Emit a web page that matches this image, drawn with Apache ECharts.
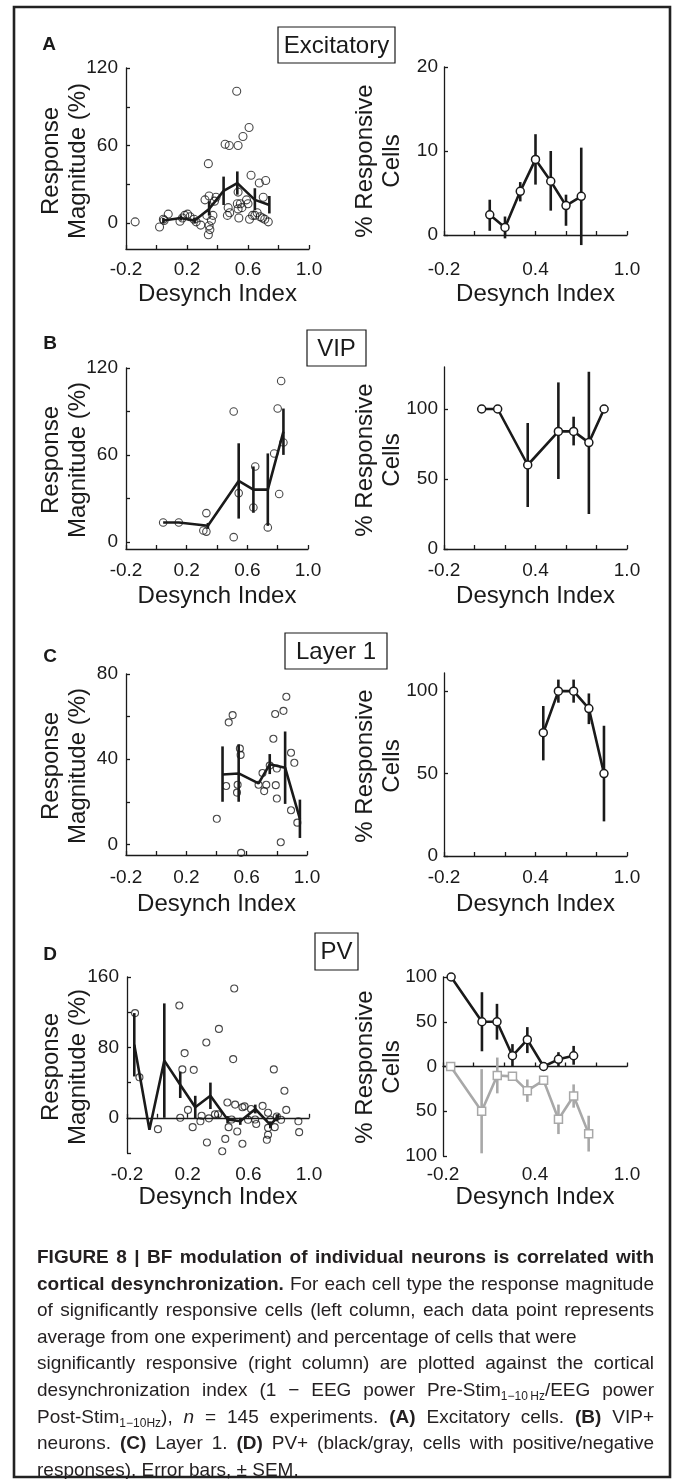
<!DOCTYPE html>
<html>
<head>
<meta charset="utf-8">
<script src="https://cdn.jsdelivr.net/npm/echarts@6/dist/echarts.min.js"></script>
<style>
html, body { margin: 0; padding: 0; background: #fff; }
#chart { position: absolute; left: 0; top: 0; width: 673px; height: 1479px; }
#caption { position: absolute; left: 37px; top: 1244px; width: 617px; font-family: 'Liberation Sans', Arial, sans-serif; font-size: 19px; line-height: 26.6px; color: #231f20; }
#caption div { white-space: nowrap; text-align: justify; text-align-last: justify; }
#caption div.last { text-align-last: left; }
#caption sub { font-size: 12px; line-height: 0; vertical-align: -4px; }
</style>
</head>
<body>
<div id="chart"></div>
<div id="caption">
<div><b>FIGURE 8 | BF modulation of individual neurons is correlated with</b></div>
<div><b>cortical desynchronization.</b> For each cell type the response magnitude</div>
<div>of significantly responsive cells (left column, each data point represents</div>
<div class="last">average from one experiment) and percentage of cells that were</div>
<div>significantly responsive (right column) are plotted against the cortical</div>
<div>desynchronization index (1 &minus; EEG power Pre-Stim<sub>1&minus;10&thinsp;Hz</sub>/EEG power</div>
<div>Post-Stim<sub>1&minus;10Hz</sub>), <i>n</i> = 145 experiments. <b>(A)</b> Excitatory cells. <b>(B)</b> VIP+</div>
<div>neurons. <b>(C)</b> Layer 1. <b>(D)</b> PV+ (black/gray, cells with positive/negative</div>
<div class="last">responses). Error bars, &plusmn; SEM.</div>
</div>
<script>
// x axis ticks / labels (Desynch Index)
const xTicks = [-0.2, 0, 0.2, 0.4, 0.6, 0.8, 1.0];
const xLabelsLeft = [-0.2, 0.2, 0.6, 1.0];
const xLabelsRight = [-0.2, 0.4, 1.0];

// A - Excitatory
const excPoints = [
    [-0.14, 1], [0.02, -3], [0.045, 3], [0.05, 2], [0.077, 7], [0.154, 1.5], [0.17, 4], [0.185, 6],
    [0.204, 7], [0.22, 5], [0.246, 3], [0.26, 1], [0.29, -1.5], [0.318, 18], [0.33, 6], [0.34, 46],
    [0.345, 21], [0.345, -2], [0.35, -5], [0.34, -9], [0.36, 2], [0.37, 6], [0.38, 17], [0.39, 20],
    [0.45, 61], [0.477, 60], [0.465, 6], [0.47, 12], [0.48, 8], [0.526, 102], [0.535, 24], [0.53, 15],
    [0.535, 11], [0.55, 15], [0.56, 12], [0.54, 4], [0.535, 60], [0.567, 67], [0.59, 18], [0.6, 15],
    [0.607, 74], [0.62, 37], [0.61, 3], [0.63, 6], [0.645, 6], [0.66, 8], [0.674, 31], [0.68, 5],
    [0.695, 4], [0.7, 20], [0.716, 33], [0.71, 3], [0.733, 1],
];
const excMagX = [0.045, 0.16, 0.25, 0.345, 0.44, 0.53, 0.645, 0.74];
const excMag = [2, 4, 2, 11, 25, 31, 18, 14];
const excMagLo = [0, 2, 0, 6, 14, 22, 10, 7.5];
const excMagHi = [4, 6, 4, 17, 36, 40, 27, 21];
const excPctX = [0.1, 0.2, 0.3, 0.4, 0.5, 0.6, 0.7];
const excPct = [2.4, 0.9, 5.2, 9.0, 6.4, 3.5, 4.6];
const excPctLo = [0.5, -0.4, 4.0, 6.0, 2.9, 1.1, -1.2];
const excPctHi = [4.2, 2.2, 6.3, 12.0, 10.0, 4.8, 10.4];

// B - VIP
const vipPoints = [
    [0.823, 111], [0.51, 90], [0.8, 92], [0.838, 68.5], [0.777, 61], [0.652, 52], [0.543, 33.6],
    [0.81, 33], [0.045, 13.3], [0.148, 13.3], [0.33, 19.8], [0.31, 7.8], [0.33, 7], [0.51, 3.2],
    [0.64, 23.7], [0.735, 9.9],
];
const vipMagX = [0.045, 0.148, 0.34, 0.543, 0.64, 0.735, 0.838];
const vipMag = [13.3, 13.3, 11, 42, 36, 36, 76];
const vipMagLo = [13.3, 13.3, 9, 16, 20, 11, 60];
const vipMagHi = [13.3, 13.3, 13, 68, 52, 61, 92];
const vipPctX = [0.047, 0.152, 0.349, 0.55, 0.65, 0.75, 0.85];
const vipPct = [100, 100, 60, 84, 84, 76, 100];
const vipPctLo = [100, 100, 30, 50, 74, 25, 100];
const vipPctHi = [100, 100, 90, 119, 94.5, 126.6, 100];

// C - Layer 1
const l1Points = [
    [0.863, 69.3], [0.789, 61.2], [0.844, 62.7], [0.507, 60.7], [0.481, 57.3], [0.777, 49.6],
    [0.555, 45], [0.56, 42], [0.464, 27.4], [0.54, 28], [0.536, 24.3], [0.679, 28], [0.705, 33.5],
    [0.716, 25], [0.73, 28], [0.753, 37], [0.8, 35.6], [0.793, 27.8], [0.8, 21.5], [0.894, 43],
    [0.916, 38.3], [0.894, 16], [0.936, 10.2], [0.402, 12], [0.826, 1], [0.563, -4],
];
const l1MagX = [0.44, 0.547, 0.679, 0.753, 0.855, 0.953];
const l1Mag = [32.8, 33.3, 28.6, 37.6, 36, 12];
const l1MagLo = [20, 20, 28.6, 33, 19, 3];
const l1MagHi = [46, 47, 28.6, 42.4, 53, 21];
const l1PctX = [0.451, 0.55, 0.65, 0.75, 0.849];
const l1Pct = [74.8, 100, 100, 89.4, 50];
const l1PctLo = [58, 93, 93, 80, 21];
const l1PctHi = [91, 107, 107, 98.6, 79];

// D - PV
const pvPoints = [
    [-0.147, 119], [0.145, 127.6], [0.507, 147], [0.406, 101], [-0.118, 46], [0.323, 85.6],
    [0.18, 73.5], [0.165, 55], [0.24, 54.5], [0.5, 66.7], [0.768, 55], [0.838, 30.7], [0.85, 9],
    [0.004, -12.9], [0.151, 0], [0.202, 9], [0.233, -10.6], [0.292, 2.3], [0.284, -4], [0.34, -0.6],
    [0.327, -28], [0.428, -38], [0.4, 4], [0.448, -24], [0.462, 17.4], [0.47, -10.6], [0.49, -2],
    [0.513, 15], [0.527, -15.5], [0.561, -29.5], [0.561, 12], [0.575, 13], [0.598, -2.3], [0.618, 10],
    [0.652, -7], [0.645, -2], [0.694, 13.6], [0.722, -25], [0.73, -19.3], [0.73, -11.4], [0.73, 5.7],
    [0.745, -2.3], [0.774, -10.6], [0.788, 1.5], [0.816, -2.3], [0.93, -4], [0.935, -16.3], [0.38, 4],
];
const pvMagX = [-0.152, -0.052, 0.046, 0.151, 0.25, 0.35, 0.463, 0.547, 0.646, 0.745, 0.788];
const pvMag = [83, -13.6, 65, 37.5, 12, 25, -2, -4, 10, -8, 0];
const pvMagLo = [47, -13.6, 0, 22.5, -1, 10, -6, -8, 5, -12, -4];
const pvMagHi = [119, -13.6, 130, 52.5, 25, 40, 2, 0, 15, -4, 4];
const pvPosX = [-0.147, 0.054, 0.152, 0.253, 0.35, 0.456, 0.553, 0.652];
const pvPos = [100, 50, 50, 12, 30, 0, 8, 12];
const pvPosLo = [100, 17, 30, 0, 15, 0, 0, 2];
const pvPosHi = [100, 83, 70, 25, 44, 0, 16, 23];
const pvNegX = [-0.15, 0.052, 0.154, 0.253, 0.35, 0.456, 0.553, 0.652, 0.75];
const pvNeg = [0, -50, -10, -11, -27, -15.5, -59, -33, -75];
const pvNegLo = [0, -97, -30, -14, -39.5, -20, -75.5, -46, -95];
const pvNegHi = [0, -3, 10, -8, -14.5, -11, -42.5, -20, -55];

const ink = '#1a1a1a';
const gray = '#a8a8a8';
const font = "'Liberation Sans', Arial, Helvetica, sans-serif";

// one entry per axes box: A-left, A-right, B-left, B-right, C-left, C-right, D-left, D-right
// (labels and name are placed from the grid bottom, even when the x axis line sits on zero)
const panels = [
    { grid: { left: 126, top: 68, width: 183, height: 181 }, ymin: -20, ymax: 120, yTicks: [0, 30, 60, 90, 120], yLabels: [0, 60, 120], yMargin: 8, xLabels: xLabelsLeft, xMargin: 11, nameGap: 33, onZero: false },
    { grid: { left: 444, top: 67, width: 183, height: 168 }, ymin: 0, ymax: 20, yTicks: [0, 10, 20], yLabels: [0, 10, 20], yMargin: 6, xLabels: xLabelsRight, xMargin: 25, nameGap: 47, onZero: false },
    { grid: { left: 126, top: 368, width: 182, height: 181 }, ymin: -5, ymax: 120, yTicks: [0, 30, 60, 90, 120], yLabels: [0, 60, 120], yMargin: 8, xLabels: xLabelsLeft, xMargin: 12, nameGap: 35, onZero: false },
    { grid: { left: 444, top: 367, width: 183, height: 182 }, ymin: 0, ymax: 130, yTicks: [0, 50, 100], yLabels: [0, 50, 100], yMargin: 6, xLabels: xLabelsRight, xMargin: 12, nameGap: 35, onZero: false },
    { grid: { left: 126, top: 674, width: 181, height: 181 }, ymin: -5, ymax: 80, yTicks: [0, 20, 40, 60, 80], yLabels: [0, 40, 80], yMargin: 8, xLabels: xLabelsLeft, xMargin: 13, nameGap: 37, onZero: false },
    { grid: { left: 444, top: 673, width: 183, height: 183 }, ymin: 0, ymax: 111, yTicks: [0, 50, 100], yLabels: [0, 50, 100], yMargin: 6, xLabels: xLabelsRight, xMargin: 12, nameGap: 36, onZero: false },
    { grid: { left: 127, top: 977, width: 182, height: 176 }, ymin: -40, ymax: 160, yTicks: [-40, 0, 40, 80, 120, 160], yLabels: [0, 80, 160], yMargin: 8, xLabels: xLabelsLeft, xMargin: 12, nameGap: 32, onZero: true },
    { grid: { left: 443, top: 977, width: 184, height: 179 }, ymin: -100, ymax: 100, yTicks: [-100, -50, 0, 50, 100], yLabels: [-100, -50, 0, 50, 100], yMargin: 6, xLabels: xLabelsRight, xMargin: 9, nameGap: 29, onZero: true },
];

const grids = [];
const xAxes = [];
const yAxes = [];
const series = [];

panels.forEach((p, i) => {
    grids.push(p.grid);
    xAxes.push({
        type: 'value', gridIndex: i, min: -0.2, max: 1.0,
        name: 'Desynch Index', nameLocation: 'middle', nameGap: p.nameGap,
        nameTextStyle: { fontSize: 24, color: ink, fontFamily: font },
        axisLine: { show: true, onZero: p.onZero, lineStyle: { color: ink, width: 1.3 } },
        axisTick: { show: true, inside: true, length: 4, customValues: xTicks, lineStyle: { color: ink, width: 1.3 } },
        axisLabel: { customValues: p.xLabels, margin: p.xMargin, fontSize: 19, color: ink, fontFamily: font, formatter: v => v.toFixed(1) },
        splitLine: { show: false },
    });
    yAxes.push({
        type: 'value', gridIndex: i, min: p.ymin, max: p.ymax,
        axisLine: { show: true, onZero: false, lineStyle: { color: ink, width: 1.3 } },
        axisTick: { show: true, inside: true, length: 4, customValues: p.yTicks, lineStyle: { color: ink, width: 1.3 } },
        axisLabel: { customValues: p.yLabels, margin: p.yMargin, fontSize: 19, color: ink, fontFamily: font, formatter: v => String(Math.abs(v)) },
        splitLine: { show: false },
    });
});

const zip = (xs, ys) => xs.map((x, k) => [x, ys[k]]);

function dots(i, pts, size) {
    series.push({
        type: 'scatter', xAxisIndex: i, yAxisIndex: i, data: pts, symbol: 'circle', symbolSize: size,
        itemStyle: { color: 'rgba(0,0,0,0)', borderColor: ink, borderWidth: 1.1 }, z: 2,
    });
}

function errorBars(i, xs, lo, hi, color) {
    series.push({
        type: 'custom', xAxisIndex: i, yAxisIndex: i,
        data: xs.map((x, k) => [x, lo[k], hi[k]]),
        encode: { x: 0, y: [1, 2] },
        renderItem: (params, api) => {
            const a = api.coord([api.value(0), api.value(1)]);
            const b = api.coord([api.value(0), api.value(2)]);
            return { type: 'line', shape: { x1: a[0], y1: a[1], x2: b[0], y2: b[1] }, style: { stroke: color, lineWidth: 2.6 } };
        },
        z: 3,
    });
}

function meanLine(i, xs, ys, color, marker, z) {
    series.push({
        type: 'line', xAxisIndex: i, yAxisIndex: i, data: zip(xs, ys),
        symbol: marker || 'none', symbolSize: 8, showSymbol: !!marker, clip: false,
        lineStyle: { color: color, width: 2.6 },
        itemStyle: { color: '#fff', borderColor: color, borderWidth: 1.5 },
        z: z || 4,
    });
}

// A
dots(0, excPoints, 8);
errorBars(0, excMagX, excMagLo, excMagHi, ink);
meanLine(0, excMagX, excMag, ink);
errorBars(1, excPctX, excPctLo, excPctHi, ink);
meanLine(1, excPctX, excPct, ink, 'circle');
// B
dots(2, vipPoints, 7.5);
errorBars(2, vipMagX, vipMagLo, vipMagHi, ink);
meanLine(2, vipMagX, vipMag, ink);
errorBars(3, vipPctX, vipPctLo, vipPctHi, ink);
meanLine(3, vipPctX, vipPct, ink, 'circle');
// C
dots(4, l1Points, 7);
errorBars(4, l1MagX, l1MagLo, l1MagHi, ink);
meanLine(4, l1MagX, l1Mag, ink);
errorBars(5, l1PctX, l1PctLo, l1PctHi, ink);
meanLine(5, l1PctX, l1Pct, ink, 'circle');
// D
dots(6, pvPoints, 7);
errorBars(6, pvMagX, pvMagLo, pvMagHi, ink);
meanLine(6, pvMagX, pvMag, ink);
errorBars(7, pvNegX, pvNegLo, pvNegHi, gray);
meanLine(7, pvNegX, pvNeg, gray, 'rect', 4);
errorBars(7, pvPosX, pvPosLo, pvPosHi, ink);
meanLine(7, pvPosX, pvPos, ink, 'circle', 6);

// titles, panel letters, frame
const graphic = [
    { type: 'rect', shape: { x: 14, y: 7, width: 656, height: 1470 }, style: { fill: 'none', stroke: '#222', lineWidth: 2.6 } },
];
const letters = [['A', 49, 45], ['B', 50, 344], ['C', 50, 657], ['D', 50, 955]];
letters.forEach(([t, x, y]) => graphic.push({
    type: 'text', x, y, style: { text: t, font: 'bold 19px ' + font, fill: ink, align: 'center', verticalAlign: 'middle' },
}));
const boxes = [
    ['Excitatory', 278, 27, 117, 36],
    ['VIP', 307, 330, 59, 36],
    ['Layer 1', 285, 633, 102, 36],
    ['PV', 315, 933, 43, 37],
];
boxes.forEach(([t, x, y, w, h]) => {
    graphic.push({ type: 'rect', shape: { x, y, width: w, height: h }, style: { fill: '#fff', stroke: ink, lineWidth: 1.2 } });
    graphic.push({ type: 'text', x: x + w / 2, y: y + h / 2 + 1, style: { text: t, font: '24px ' + font, fill: ink, align: 'center', verticalAlign: 'middle' } });
});
const rowTitleY = [161, 460, 766, 1067];
rowTitleY.forEach(y => {
    graphic.push({ type: 'text', x: 64.5, y, rotation: Math.PI / 2, style: { text: 'Response\nMagnitude (%)', font: '24px ' + font, fill: ink, align: 'center', verticalAlign: 'middle', lineHeight: 27 } });
    graphic.push({ type: 'text', x: 378.5, y, rotation: Math.PI / 2, style: { text: '% Responsive\nCells', font: '24px ' + font, fill: ink, align: 'center', verticalAlign: 'middle', lineHeight: 27 } });
});

const chart = echarts.init(document.getElementById('chart'), null, { renderer: 'canvas' });
chart.setOption({
    animation: false,
    backgroundColor: '#fff',
    grid: grids,
    xAxis: xAxes,
    yAxis: yAxes,
    series: series,
    graphic: graphic,
});
</script>
</body>
</html>
